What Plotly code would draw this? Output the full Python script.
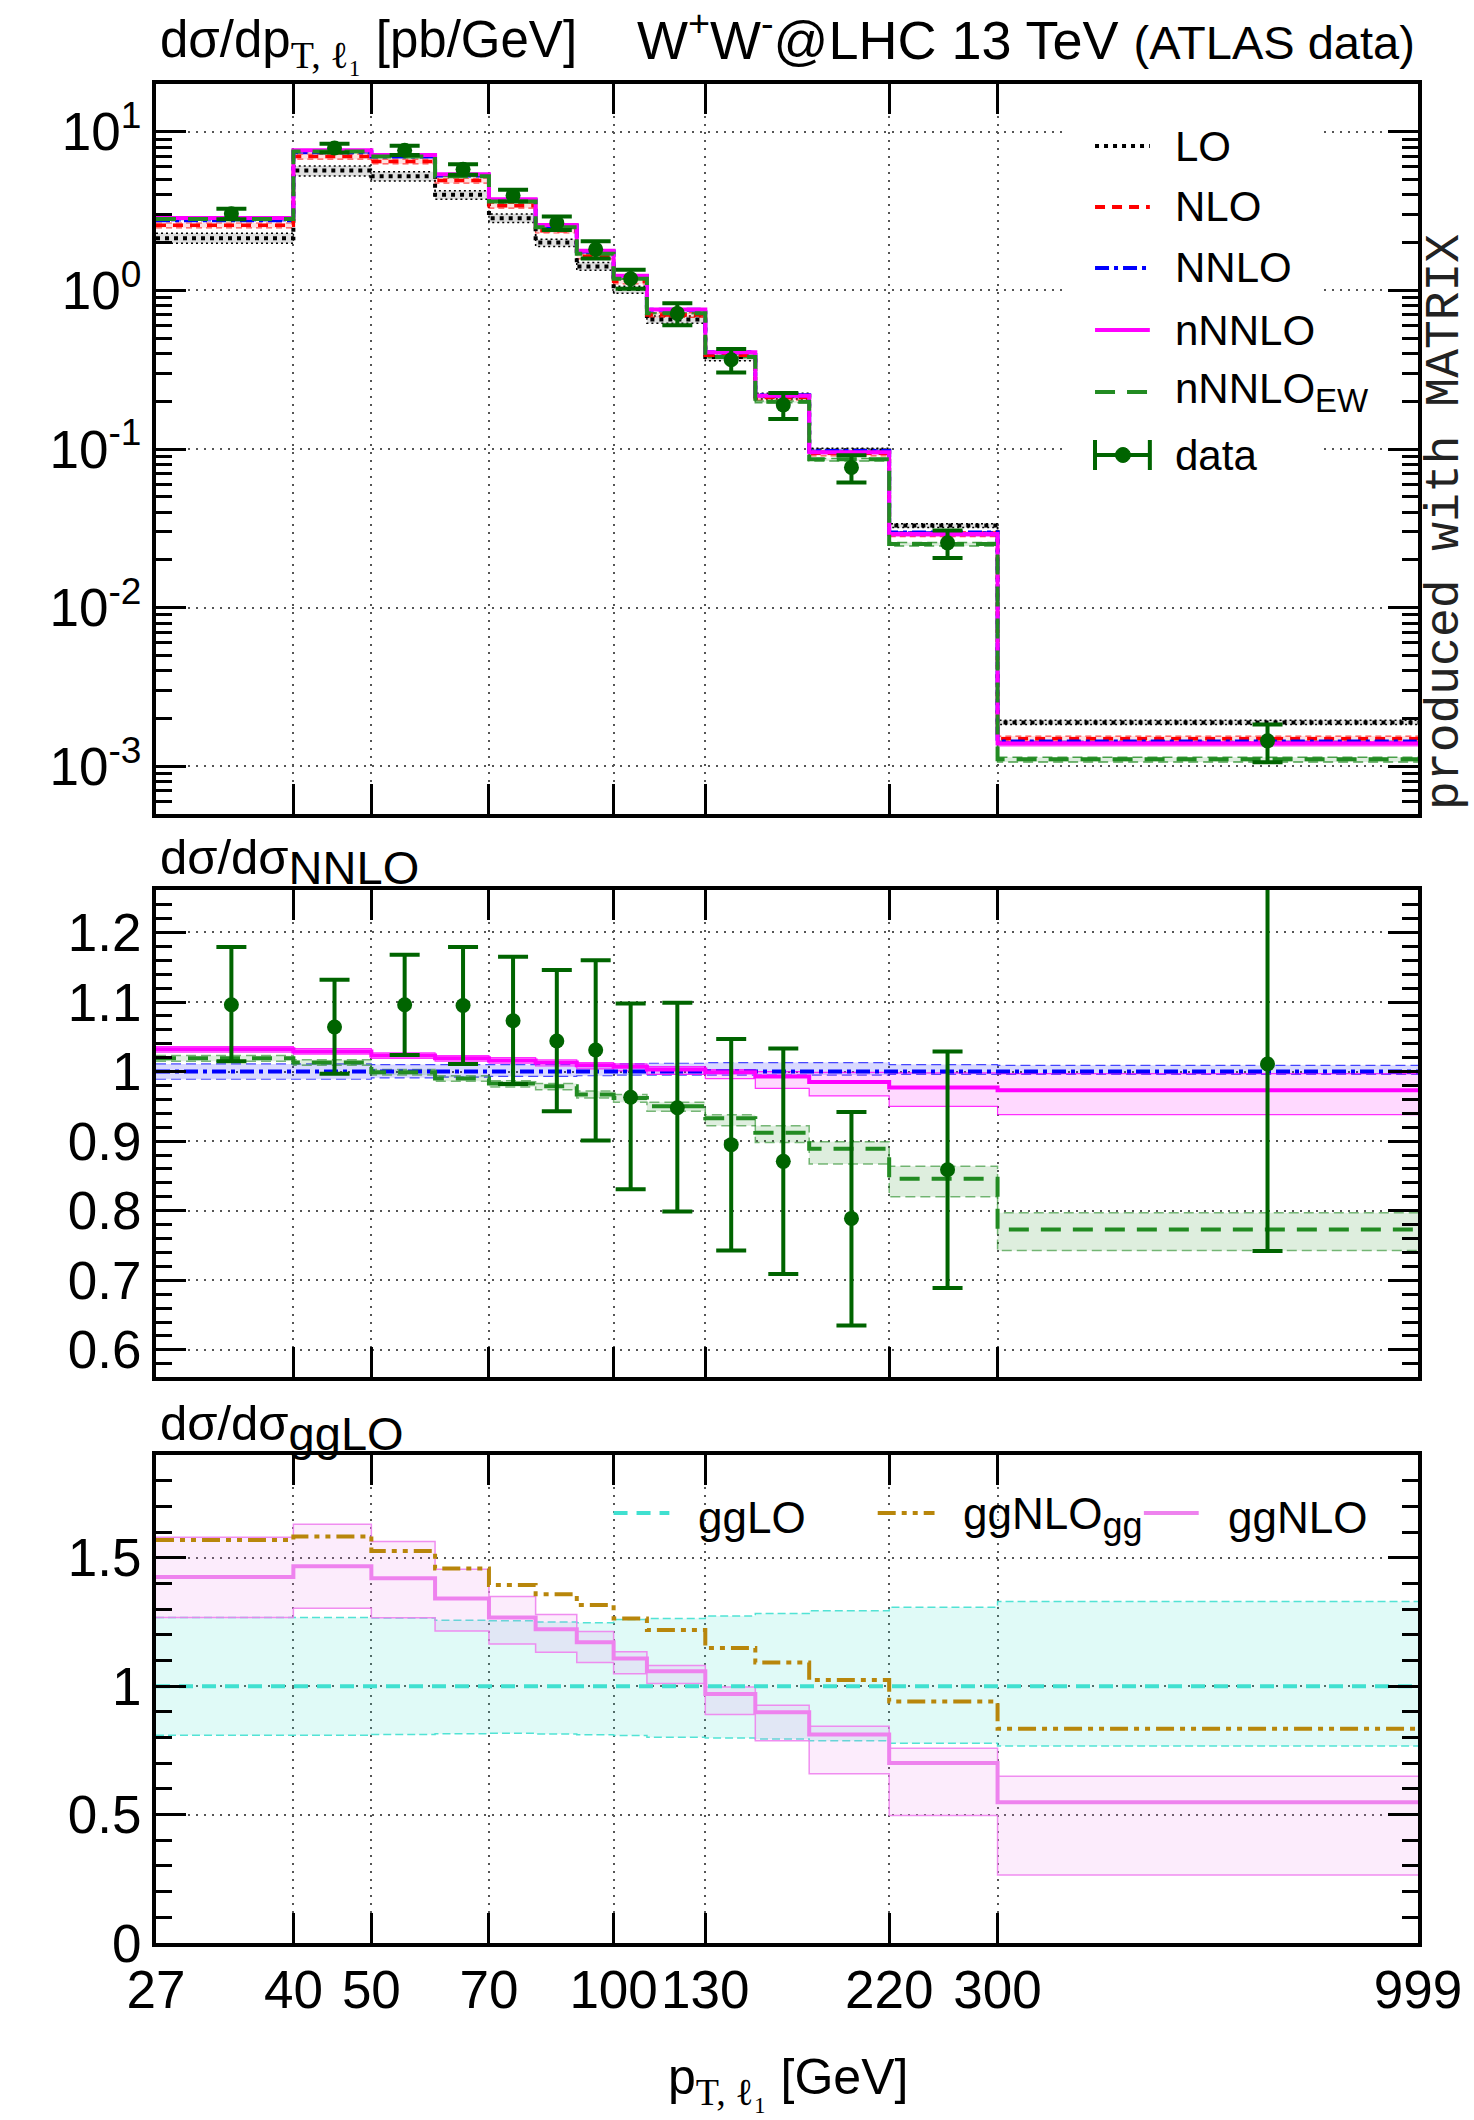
import math
import plotly.graph_objects as go

# ---------------- data ----------------
bin_edges = [27, 40, 50, 60, 70, 80, 90, 100, 110, 130, 150, 175, 220, 300, 999]
x_tick_vals = [27, 40, 50, 70, 100, 130, 220, 300, 999]
x_tick_text = ["27", "40", "50", "70", "100", "130", "220", "300", "999"]

# top panel: absolute predictions [pb/GeV]
lo_central = [2.13, 5.69, 5.24, 4.00, 2.85, 2.00, 1.415, 1.02, 0.655, 0.380, 0.216, 0.098, 0.0329, 0.00189]
lo_low = [1.98, 5.26, 4.90, 3.75, 2.68, 1.89, 1.34, 0.96, 0.620, 0.360, 0.207, 0.095, 0.0320, 0.00183]
lo_high = [2.29, 6.08, 5.60, 4.24, 3.03, 2.10, 1.50, 1.06, 0.690, 0.400, 0.225, 0.101, 0.0338, 0.00195]
nlo_central = [2.57, 6.97, 6.50, 4.92, 3.42, 2.38, 1.64, 1.14, 0.700, 0.390, 0.212, 0.094, 0.0291, 0.00149]
nlo_low = [2.48, 6.72, 6.27, 4.75, 3.30, 2.30, 1.58, 1.10, 0.675, 0.376, 0.203, 0.0905, 0.0280, 0.00143]
nlo_high = [2.66, 7.22, 6.73, 5.09, 3.54, 2.46, 1.70, 1.18, 0.725, 0.404, 0.218, 0.0975, 0.0302, 0.00155]
nnlo_central = [2.77, 7.42, 6.98, 5.30, 3.70, 2.55, 1.76, 1.23, 0.755, 0.408, 0.218, 0.097, 0.0298, 0.00143]

# middle panel: ratios to NNLO
nnlo_ratio = [1.0, 1.0, 1.0, 1.0, 1.0, 1.0, 1.0, 1.0, 1.0, 1.0, 1.0, 1.0, 1.0, 1.0]
nnlo_ratio_low = [0.989, 0.989, 0.991, 0.992, 0.993, 0.993, 0.994, 0.995, 0.995, 0.995, 0.995, 0.995, 0.996, 0.996]
nnlo_ratio_high = [1.011, 1.011, 1.010, 1.010, 1.010, 1.010, 1.010, 1.011, 1.012, 1.013, 1.013, 1.013, 1.010, 1.009]
nnnlo_ratio = [1.032, 1.029, 1.023, 1.019, 1.016, 1.013, 1.009, 1.007, 1.003, 0.999, 0.993, 0.985, 0.977, 0.973]
nnnlo_ratio_low = [1.028, 1.025, 1.019, 1.015, 1.012, 1.008, 1.004, 1.001, 0.996, 0.990, 0.976, 0.965, 0.950, 0.938]
nnnlo_ratio_high = [1.036, 1.033, 1.027, 1.023, 1.020, 1.017, 1.013, 1.011, 1.007, 1.003, 1.000, 0.999, 0.998, 0.997]
ew_ratio = [1.019, 1.013, 0.999, 0.990, 0.983, 0.979, 0.967, 0.962, 0.950, 0.933, 0.912, 0.889, 0.846, 0.773]
ew_ratio_low = [1.015, 1.009, 0.995, 0.986, 0.978, 0.974, 0.962, 0.956, 0.943, 0.922, 0.898, 0.867, 0.820, 0.743]
ew_ratio_high = [1.023, 1.017, 1.003, 0.994, 0.987, 0.983, 0.972, 0.967, 0.956, 0.938, 0.922, 0.899, 0.864, 0.797]
data_ratio = [1.096, 1.064, 1.096, 1.095, 1.073, 1.044, 1.031, 0.963, 0.948, 0.895, 0.871, 0.789, 0.859, 1.011]
data_ratio_low = [1.015, 0.997, 1.024, 1.011, 0.982, 0.943, 0.901, 0.831, 0.799, 0.743, 0.709, 0.635, 0.689, 0.742]
data_ratio_high = [1.179, 1.132, 1.168, 1.179, 1.165, 1.146, 1.160, 1.098, 1.099, 1.047, 1.033, 0.942, 1.029, 1.280]

# bottom panel: ratios to ggLO
gglo_ratio = [1.0, 1.0, 1.0, 1.0, 1.0, 1.0, 1.0, 1.0, 1.0, 1.0, 1.0, 1.0, 1.0, 1.0]
gglo_ratio_low = [0.809, 0.809, 0.812, 0.815, 0.817, 0.814, 0.811, 0.808, 0.801, 0.798, 0.794, 0.787, 0.778, 0.767]
gglo_ratio_high = [1.267, 1.267, 1.265, 1.257, 1.255, 1.250, 1.247, 1.260, 1.263, 1.273, 1.283, 1.294, 1.307, 1.330]
ggnlogg_ratio = [1.569, 1.583, 1.526, 1.458, 1.394, 1.358, 1.316, 1.263, 1.219, 1.149, 1.092, 1.024, 0.940, 0.834]
ggnlo_ratio = [1.425, 1.467, 1.420, 1.341, 1.267, 1.222, 1.171, 1.108, 1.058, 0.969, 0.898, 0.812, 0.701, 0.548]
ggnlo_ratio_low = [1.267, 1.303, 1.266, 1.215, 1.164, 1.132, 1.092, 1.048, 1.010, 0.890, 0.787, 0.659, 0.496, 0.265]
ggnlo_ratio_high = [1.580, 1.630, 1.563, 1.455, 1.349, 1.279, 1.213, 1.134, 1.080, 0.997, 0.926, 0.844, 0.758, 0.649]

# ---------------- geometry ----------------
W, H = 1474, 2120
ML, MR, MT, MB = 156, 52, 84, 177
PW = W - ML - MR
PH = H - MT - MB


def px(x):
    return (x - ML) / PW


def py(y):
    return (H - MB - y) / PH


FONT = "Liberation Sans, Arial, Helvetica, sans-serif"
TICK_SIZE = 53

# colours
C_LO, C_NLO, C_NNLO, C_NNNLO, C_EW, C_DATA = "#000000", "#ff0000", "#0000ff", "#ff00ff", "#228b22", "#006400"
C_GGLO, C_GGNLOGG, C_GGNLO = "#40e0d0", "#b8860b", "#ee82ee"

D_LO = "4px,5px"
D_NLO = "10px,7px"
D_NNLO = "14px,5px,4px,5px"
D_EW = "20px,12px"
D_GGLO = "14px,9px"
D_GGNLOGG = "18px,6px,5px,6px,5px,6px"


def step_y(v):
    return list(v) + [v[-1]]


def scale(a, b):
    return [p * q for p, q in zip(a, b)]


def line_trace(vals, xa, ya, color, width, dash):
    return go.Scatter(x=bin_edges, y=step_y(vals), mode="lines",
                      line=dict(color=color, width=width, dash=dash, shape="hv"),
                      xaxis=xa, yaxis=ya, showlegend=False, hoverinfo="skip")


def band(lo, hi, xa, ya, fill, ecolor, edash, ewidth=1.5):
    t1 = go.Scatter(x=bin_edges, y=step_y(lo), mode="lines",
                    line=dict(color=ecolor, width=ewidth, dash=edash, shape="hv"),
                    xaxis=xa, yaxis=ya, showlegend=False, hoverinfo="skip")
    t2 = go.Scatter(x=bin_edges, y=step_y(hi), mode="lines", fill="tonexty", fillcolor=fill,
                    line=dict(color=ecolor, width=ewidth, dash=edash, shape="hv"),
                    xaxis=xa, yaxis=ya, showlegend=False, hoverinfo="skip")
    return [t1, t2]


def data_trace(vals, lows, highs, xa, ya):
    centers = [(a + b) / 2 for a, b in zip(bin_edges[:-1], bin_edges[1:])]
    return go.Scatter(x=centers, y=vals, mode="markers",
                      marker=dict(color=C_DATA, size=15),
                      error_y=dict(type="data", symmetric=False,
                                   array=[h - v for h, v in zip(highs, vals)],
                                   arrayminus=[v - l for v, l in zip(vals, lows)],
                                   color=C_DATA, thickness=4, width=15),
                      xaxis=xa, yaxis=ya, showlegend=False, hoverinfo="skip")


traces = []
# ---- top panel ----
traces += band(lo_low, lo_high, "x", "y", "rgba(150,150,150,0.3)", "#000000", "2px,3px", 1.5)
traces += band(nlo_low, nlo_high, "x", "y", "rgba(255,0,0,0.12)", "rgba(255,0,0,0.7)", "6px,4px", 1.2)
traces += band(scale(nnlo_central, nnlo_ratio_low), scale(nnlo_central, nnlo_ratio_high), "x", "y",
               "rgba(0,0,255,0.15)", "rgba(0,0,255,0.7)", "10px,5px", 1.2)
traces += band(scale(nnlo_central, nnnlo_ratio_low), scale(nnlo_central, nnnlo_ratio_high), "x", "y",
               "rgba(255,0,255,0.15)", "rgba(255,0,255,0.8)", "solid", 1.2)
traces += band(scale(nnlo_central, ew_ratio_low), scale(nnlo_central, ew_ratio_high), "x", "y",
               "rgba(34,139,34,0.15)", "rgba(34,139,34,0.8)", "10px,5px", 1.5)
traces.append(line_trace(lo_central, "x", "y", C_LO, 4, D_LO))
traces.append(line_trace(nlo_central, "x", "y", C_NLO, 3.5, D_NLO))
traces.append(line_trace(scale(nnlo_central, nnlo_ratio), "x", "y", C_NNLO, 4, D_NNLO))
traces.append(line_trace(scale(nnlo_central, nnnlo_ratio), "x", "y", C_NNNLO, 4, "solid"))
traces.append(line_trace(scale(nnlo_central, ew_ratio), "x", "y", C_EW, 4, D_EW))
traces.append(data_trace(scale(nnlo_central, data_ratio), scale(nnlo_central, data_ratio_low),
                         scale(nnlo_central, data_ratio_high), "x", "y"))

# ---- middle panel ----
traces += band(nnlo_ratio_low, nnlo_ratio_high, "x2", "y2", "rgba(0,0,255,0.15)", "rgba(0,0,255,0.7)", "10px,5px", 1.2)
traces += band(nnnlo_ratio_low, nnnlo_ratio_high, "x2", "y2", "rgba(255,0,255,0.15)", "rgba(255,0,255,0.8)", "solid", 1.2)
traces += band(ew_ratio_low, ew_ratio_high, "x2", "y2", "rgba(34,139,34,0.15)", "rgba(34,139,34,0.6)", "10px,5px", 1.5)
traces.append(line_trace(nnlo_ratio, "x2", "y2", C_NNLO, 4, D_NNLO))
traces.append(line_trace(nnnlo_ratio, "x2", "y2", C_NNNLO, 4, "solid"))
traces.append(line_trace(ew_ratio, "x2", "y2", C_EW, 4, D_EW))
traces.append(data_trace(data_ratio, data_ratio_low, data_ratio_high, "x2", "y2"))

# ---- bottom panel ----
traces += band(gglo_ratio_low, gglo_ratio_high, "x3", "y3", "rgba(64,224,208,0.16)", "rgba(64,224,208,0.9)", "8px,4px", 1.5)
traces += band(ggnlo_ratio_low, ggnlo_ratio_high, "x3", "y3", "rgba(238,130,238,0.15)", "rgba(238,130,238,0.9)", "solid", 1.5)
traces.append(line_trace(gglo_ratio, "x3", "y3", C_GGLO, 4, D_GGLO))
traces.append(line_trace(ggnlogg_ratio, "x3", "y3", C_GGNLOGG, 4, D_GGNLOGG))
traces.append(line_trace(ggnlo_ratio, "x3", "y3", C_GGNLO, 4, "solid"))

fig = go.Figure(data=traces)

# ---------------- axes ----------------
xr = [math.log10(bin_edges[0]), math.log10(bin_edges[-1])]
grid = dict(showgrid=True, gridcolor="#555555", gridwidth=1.5, griddash="2px,6px")
frame = dict(showline=True, linecolor="black", linewidth=4, mirror="allticks", zeroline=False,
             ticks="inside", ticklen=30, tickwidth=3, tickcolor="black",
             tickfont=dict(family=FONT, size=TICK_SIZE, color="black"))


def xaxis(anchor, labels):
    d = dict(type="log", range=xr, tickmode="array", tickvals=x_tick_vals, ticktext=x_tick_text,
             showticklabels=labels, anchor=anchor, domain=[0, 1], ticklabelstandoff=-3)
    d.update(frame)
    d.update(grid)
    return d


dom_top = [py(814), 1.0]
dom_mid = [py(1377), py(890)]
dom_bot = [0.0, py(1455)]

top_major = [0.001, 0.01, 0.1, 1, 10]
top_minor = [m * 10 ** e for e in range(-4, 2) for m in range(2, 10) if 5e-4 <= m * 10 ** e <= 20]

yaxis_top = dict(type="log", range=[math.log10(5e-4), math.log10(20)], domain=dom_top, anchor="x",
                 tickmode="array", tickvals=top_major,
                 ticktext=["10<sup>-3</sup>", "10<sup>-2</sup>", "10<sup>-1</sup>", "10<sup>0</sup>", "10<sup>1</sup>"],
                 minor=dict(tickmode="array", tickvals=top_minor, ticks="inside", ticklen=16, tickwidth=3,
                            tickcolor="black", showgrid=False),
                 ticklabelstandoff=0)
yaxis_top.update(frame)
yaxis_top.update(grid)

yaxis_mid = dict(range=[0.561, 1.261], domain=dom_mid, anchor="x2", tickmode="array",
                 tickvals=[0.6, 0.7, 0.8, 0.9, 1.0, 1.1, 1.2],
                 ticktext=["0.6", "0.7", "0.8", "0.9", "1", "1.1", "1.2"],
                 minor=dict(tickmode="linear", tick0=0, dtick=0.02, ticks="inside", ticklen=16, tickwidth=3,
                            tickcolor="black", showgrid=False),
                 ticklabelstandoff=0)
yaxis_mid.update(frame)
yaxis_mid.update(grid)

yaxis_bot = dict(range=[0, 1.9], domain=dom_bot, anchor="x3", tickmode="array",
                 tickvals=[0, 0.5, 1.0, 1.5], ticktext=["0", "0.5", "1", "1.5"],
                 minor=dict(tickmode="linear", tick0=0, dtick=0.1, ticks="inside", ticklen=16, tickwidth=3,
                            tickcolor="black", showgrid=False),
                 ticklabelstandoff=0)
yaxis_bot.update(frame)
yaxis_bot.update(grid)

fig.update_layout(
    width=W, height=H,
    margin=dict(l=ML, r=MR, t=MT, b=MB, pad=0),
    paper_bgcolor="white", plot_bgcolor="white",
    showlegend=False,
    font=dict(family=FONT, color="black"),
    xaxis=xaxis("y", False), xaxis2=xaxis("y2", False), xaxis3=xaxis("y3", True),
    yaxis=yaxis_top, yaxis2=yaxis_mid, yaxis3=yaxis_bot,
)

# ---------------- legends (drawn manually, gnuplot style) ----------------
shapes = []
annotations = []

# white key box in the top panel
shapes.append(dict(type="rect", xref="paper", yref="paper", x0=px(1068), x1=px(1322), y0=py(478), y1=py(112),
                   fillcolor="white", line=dict(width=0), layer="above"))

top_rows = [
    ("LO", C_LO, D_LO, 146),
    ("NLO", C_NLO, D_NLO, 207),
    ("NNLO", C_NNLO, D_NNLO, 268),
    ("nNNLO", C_NNNLO, "solid", 330),
    ('nNNLO<sub><span style="font-size:33px">EW</span></sub>', C_EW, D_EW, 392),
]
for label, col, dash, yy in top_rows:
    shapes.append(dict(type="line", xref="paper", yref="paper", x0=px(1098), x1=px(1153), y0=py(yy), y1=py(yy),
                       line=dict(color=col, width=4, dash=dash), layer="above"))
    annotations.append(dict(text=label, xref="paper", yref="paper", x=px(1176), y=py(yy), xanchor="left",
                            yanchor="middle", showarrow=False, font=dict(family=FONT, size=42, color="black")))
# data key
ydk = 455
shapes.append(dict(type="line", xref="paper", yref="paper", x0=px(1098), x1=px(1153), y0=py(ydk), y1=py(ydk),
                   line=dict(color=C_DATA, width=4), layer="above"))
for xc in (1098, 1153):
    shapes.append(dict(type="line", xref="paper", yref="paper", x0=px(xc), x1=px(xc), y0=py(ydk - 15),
                       y1=py(ydk + 15), line=dict(color=C_DATA, width=4), layer="above"))
shapes.append(dict(type="circle", xref="paper", yref="paper", x0=px(1126 - 7.5), x1=px(1126 + 7.5),
                   y0=py(ydk + 7.5), y1=py(ydk - 7.5), fillcolor=C_DATA, line=dict(color=C_DATA, width=1),
                   layer="above"))
annotations.append(dict(text="data", xref="paper", yref="paper", x=px(1176), y=py(ydk), xanchor="left",
                        yanchor="middle", showarrow=False, font=dict(family=FONT, size=42, color="black")))

# bottom panel key (horizontal)
ybk = 1513
bot_rows = [
    ("ggLO", C_GGLO, D_GGLO, 615, 671, 698),
    ('ggNLO<sub><span style="font-size:36px">gg</span></sub>', C_GGNLOGG, D_GGNLOGG, 880, 937, 964),
    ("ggNLO", C_GGNLO, "solid", 1147, 1202, 1229),
]
for label, col, dash, xa, xb, xt in bot_rows:
    shapes.append(dict(type="line", xref="paper", yref="paper", x0=px(xa), x1=px(xb), y0=py(ybk), y1=py(ybk),
                       line=dict(color=col, width=4, dash=dash), layer="above"))
    annotations.append(dict(text=label, xref="paper", yref="paper", x=px(xt), y=py(ybk + 4), xanchor="left",
                            yanchor="middle", showarrow=False, font=dict(family=FONT, size=44, color="black")))

# ---------------- titles ----------------
sub_serif = '<span style="font-family:Liberation Serif, Times New Roman, serif;font-size:38px">T, ℓ₁</span>'
annotations.append(dict(text="dσ/dp<sub>" + sub_serif + "</sub> [pb/GeV]", xref="paper", yref="paper",
                        x=px(158), y=py(78), xanchor="left", yanchor="bottom", showarrow=False,
                        font=dict(family=FONT, size=51, color="black")))
annotations.append(dict(text='W<sup>+</sup>W<sup>-</sup>@LHC 13 TeV <span style="font-size:47px">(ATLAS data)</span>',
                        xref="paper", yref="paper", x=px(1421), y=py(72), xanchor="right", yanchor="bottom",
                        showarrow=False, font=dict(family=FONT, size=54, color="black")))
annotations.append(dict(text='dσ/dσ<sub><span style="font-size:47px">NNLO</span></sub>', xref="paper", yref="paper",
                        x=px(158), y=py(896), xanchor="left", yanchor="bottom", showarrow=False,
                        font=dict(family=FONT, size=49, color="black")))
annotations.append(dict(text='dσ/dσ<sub><span style="font-size:47px">ggLO</span></sub>', xref="paper", yref="paper",
                        x=px(158), y=py(1462), xanchor="left", yanchor="bottom", showarrow=False,
                        font=dict(family=FONT, size=49, color="black")))
annotations.append(dict(text="p<sub>" + sub_serif + "</sub> [GeV]", xref="paper", yref="paper",
                        x=px(790), y=py(2081), xanchor="center", yanchor="middle", showarrow=False,
                        font=dict(family=FONT, size=50, color="black")))
annotations.append(dict(text="produced with MATRIX", xref="paper", yref="paper", x=px(1449), y=py(522),
                        xanchor="center", yanchor="middle", textangle=-90, showarrow=False,
                        font=dict(family="Liberation Mono, Courier New, monospace", size=48, color="#222222")))

fig.update_layout(shapes=shapes, annotations=annotations)

fig.write_html("out.html")
